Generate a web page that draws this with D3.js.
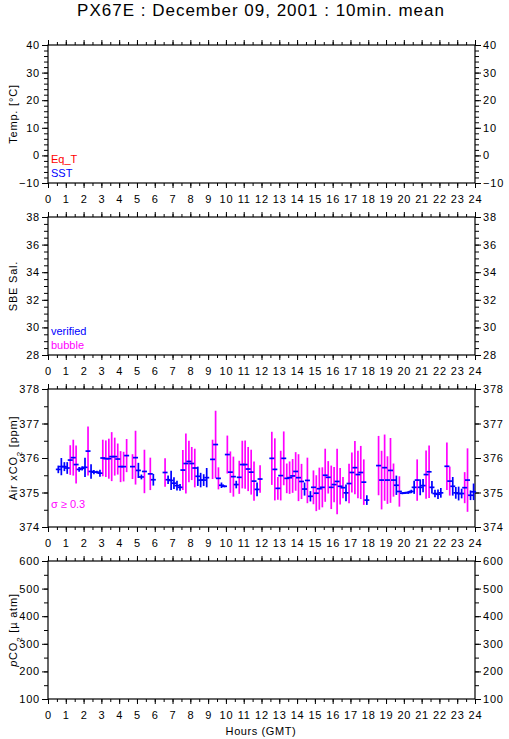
<!DOCTYPE html>
<html>
<head>
<meta charset="utf-8">
<script src="https://cdn.jsdelivr.net/npm/d3@7"></script>
<style>
    body { margin: 0; background: #fff; }
    text { font-family: "Liberation Sans", Arial, sans-serif; }
</style>
</head>
<body>
<svg id="chart"></svg>
<script>

// 10 minute means of air xCO2, hour of day (GMT)
var hours = [0.58,0.75,0.92,1.08,1.25,1.42,1.58,1.75,1.92,2.08,2.25,2.42,2.58,2.75,2.92,
    3.08,3.25,3.42,3.58,3.75,3.92,4.08,4.25,4.42,4.75,4.92,5.08,5.25,5.42,5.75,5.92,
    6.58,6.75,6.92,7.08,7.25,7.42,7.58,7.75,7.92,8.08,8.25,8.42,8.58,8.75,8.92,
    9.25,9.42,9.58,9.75,9.92,10.08,10.25,10.42,10.58,10.75,10.92,11.08,11.25,11.42,11.58,11.75,11.92,
    12.58,12.75,12.92,13.08,13.25,13.42,13.58,13.75,13.92,14.08,14.25,14.42,14.58,14.75,14.92,
    15.08,15.25,15.42,15.58,15.75,15.92,16.08,16.25,16.42,16.58,16.75,16.92,
    17.08,17.25,17.42,17.58,17.75,17.92,18.58,18.75,18.92,19.08,19.25,19.42,19.58,19.75,19.92,
    20.08,20.25,20.42,20.58,20.75,20.92,21.08,21.25,21.42,21.58,21.75,21.92,
    22.08,22.42,22.58,22.75,22.92,23.08,23.25,23.42,23.58,23.75,23.92]

var xco2 = [375.67,375.75,375.75,375.71,375.94,376.01,375.81,375.67,375.70,375.73,376.20,375.61,375.59,375.59,375.56,
    376.00,375.98,375.98,376.04,376.04,375.97,375.75,375.75,376.07,375.75,376.01,375.64,375.45,375.61,375.54,375.37,
    375.58,375.37,375.35,375.27,375.20,375.15,375.65,375.84,375.90,375.84,375.71,375.47,375.36,375.36,375.43,
    375.96,376.39,375.41,375.21,375.18,376.10,375.59,375.46,375.23,375.44,375.81,375.81,375.68,375.59,375.33,375.09,375.39,
    375.99,375.67,375.12,375.49,375.99,375.41,375.43,375.48,375.61,375.43,375.32,375.10,375.35,374.89,375.15,
    374.98,375.11,375.15,375.50,375.44,375.15,375.23,375.32,375.18,375.14,374.99,375.26,
    375.58,375.72,375.52,375.58,375.30,374.78,375.78,375.36,375.72,375.36,375.64,375.36,375.21,375.03,374.98,
    374.99,375.00,375.03,375.15,375.36,375.15,375.20,375.52,375.60,375.15,374.97,374.95,
    374.99,375.76,375.33,375.18,374.99,374.97,374.97,375.14,375.36,374.92,375.02]

var sigma = [0.11,0.25,0.13,0.17,0.43,0.52,0.55,0.07,0.06,0.28,0.71,0.21,0.06,0.04,0.10,
    0.53,0.53,0.58,0.71,0.55,0.45,0.45,0.43,0.48,0.36,0.78,0.22,0.07,0.63,0.47,0.17,
    0.41,0.12,0.28,0.17,0.14,0.10,0.58,0.87,0.60,0.48,0.56,0.28,0.21,0.17,0.28,
    0.57,0.98,0.32,0.08,0.03,0.55,0.60,0.58,0.11,0.48,0.69,0.70,0.64,0.65,0.57,0.20,0.40,
    0.77,0.90,0.33,0.72,0.78,0.43,0.47,0.49,0.56,0.68,0.51,0.19,0.66,0.15,0.49,
    0.52,0.61,0.58,0.77,0.47,0.63,0.51,0.95,0.53,0.31,0.24,0.57,
    0.58,0.77,0.69,0.77,0.66,0.14,0.86,0.85,0.96,0.69,0.94,0.48,0.28,0.44,0.03,
    0.03,0.04,0.05,0.19,0.60,0.23,0.19,0.70,0.76,0.18,0.11,0.14,
    0.14,0.69,0.42,0.27,0.17,0.20,0.14,0.45,0.92,0.14,0.24]

var sigmaLimit = 0.3

var hourTicks = d3.range(0, 25)
var halfHourTicks = d3.range(0, 24.01, 0.5)

var panels = [
    { label: "Temp. [°C]", domain: [-10, 40], major: 10, minor: 2 },
    { label: "SBE Sal.", domain: [28, 38], major: 2, minor: 0.5 },
    { label: "Air xCO2 [ppm]", domain: [374, 378], major: 1, minor: 0.5 },
    { label: "pCO2 [µ atm]", domain: [100, 600], major: 100, minor: 50 }
]

var dimensions = {
    width: 509,
    height: 739,
    left: 48,
    right: 475,
    tops: [45, 217, 389, 561],
    panelHeight: 138
}

var svg = d3.select("#chart")
    .attr("width", dimensions.width)
    .attr("height", dimensions.height)

var xScale = d3.scaleLinear()
    .domain([0, 24])
    .range([dimensions.left, dimensions.right])

svg.append("text")
    .attr("x", 261)
    .attr("y", 16)
    .attr("text-anchor", "middle")
    .style("font-size", "17px")
    .style("letter-spacing", "1px")
    .text("PX67E : December 09, 2001 : 10min. mean")

function styleAxis(g) {
    g.select(".domain").remove()
    g.selectAll("text")
        .style("font-size", "11px")
        .style("letter-spacing", "0.8px")
        .style("font-family", "Liberation Sans, Arial, sans-serif")
        .attr("fill", "black")
}

var yScales = []

panels.forEach(function(p, i) {
    var top = dimensions.tops[i]
    var bottom = top + dimensions.panelHeight

    var yScale = d3.scaleLinear()
        .domain(p.domain)
        .range([bottom, top])
    yScales.push(yScale)

    var majors = d3.range(p.domain[0], p.domain[1] + 1e-9, p.major)
    var minors = d3.range(p.domain[0], p.domain[1] + 1e-9, p.minor)

    // y axes, left and right
    svg.append("g").attr("transform", `translate(${dimensions.left},0)`)
        .call(d3.axisLeft(yScale).tickValues(minors).tickSize(4).tickFormat(""))
        .call(styleAxis)
    svg.append("g").attr("transform", `translate(${dimensions.left},0)`)
        .call(d3.axisLeft(yScale).tickValues(majors).tickSize(6).tickPadding(2).tickFormat(d3.format("d")))
        .call(styleAxis)
    svg.append("g").attr("transform", `translate(${dimensions.right},0)`)
        .call(d3.axisRight(yScale).tickValues(minors).tickSize(4).tickFormat(""))
        .call(styleAxis)
    svg.append("g").attr("transform", `translate(${dimensions.right},0)`)
        .call(d3.axisRight(yScale).tickValues(majors).tickSize(6).tickPadding(2).tickFormat(d3.format("d")))
        .call(styleAxis)

    // x axes, top and bottom
    svg.append("g").attr("transform", `translate(0,${top})`)
        .call(d3.axisTop(xScale).tickValues(halfHourTicks).tickSize(3).tickFormat(""))
        .call(styleAxis)
    svg.append("g").attr("transform", `translate(0,${top})`)
        .call(d3.axisTop(xScale).tickValues(hourTicks).tickSize(5).tickFormat(""))
        .call(styleAxis)
    svg.append("g").attr("transform", `translate(0,${bottom})`)
        .call(d3.axisBottom(xScale).tickValues(halfHourTicks).tickSize(3).tickFormat(""))
        .call(styleAxis)
    svg.append("g").attr("transform", `translate(0,${bottom})`)
        .call(d3.axisBottom(xScale).tickValues(hourTicks).tickSize(5).tickPadding(7).tickFormat(d3.format("d")))
        .call(styleAxis)

    svg.append("rect")
        .attr("x", dimensions.left)
        .attr("y", top)
        .attr("width", dimensions.right - dimensions.left)
        .attr("height", dimensions.panelHeight)
        .attr("fill", "none")
        .attr("stroke", "black")
        .attr("stroke-width", 1.2)

    // y label
    var lab = svg.append("text")
        .attr("transform", `translate(17,${(top + bottom) / 2}) rotate(-90)`)
        .attr("text-anchor", "middle")
        .style("font-size", "11px")
        .style("letter-spacing", "0.8px")
    if (i == 2) {
        lab.append("tspan").text("Air xCO")
        lab.append("tspan").attr("baseline-shift", "sub").style("font-size", "8px").text("2")
        lab.append("tspan").text(" [ppm]")
    } else if (i == 3) {
        lab.append("tspan").style("font-style", "italic").text("p")
        lab.append("tspan").text("CO")
        lab.append("tspan").attr("baseline-shift", "sub").style("font-size", "8px").text("2")
        lab.append("tspan").text(" [µ atm]")
    } else {
        lab.text(p.label)
    }
})

// legends
function legend(x, y, color, txt) {
    svg.append("text").attr("x", x).attr("y", y).attr("fill", color).style("font-size", "11px").text(txt)
}
legend(51, 163, "#ff0000", "Eq_T")
legend(51, 177, "#0000ff", "SST")
legend(51, 335, "#0000ff", "verified")
legend(51, 349, "#ff00ff", "bubble")
legend(51, 508, "#ff00ff", "σ ≥ 0.3")

svg.append("text")
    .attr("x", 261)
    .attr("y", 735)
    .attr("text-anchor", "middle")
    .style("font-size", "11px")
    .style("letter-spacing", "0.6px")
    .text("Hours (GMT)")

// xCO2 error bars and means
var yCO2 = yScales[2]
var dataset = hours.map((h, i) => ({ h: h, m: xco2[i], s: sigma[i] }))

svg.selectAll("line.bar")
    .data(dataset)
    .enter()
    .append("line")
    .attr("class", "bar")
    .attr("x1", d => xScale(d.h))
    .attr("x2", d => xScale(d.h))
    .attr("y1", d => yCO2(d.m - d.s))
    .attr("y2", d => yCO2(d.m + d.s))
    .attr("stroke", d => d.s >= sigmaLimit ? "#ff00ff" : "#0000ff")
    .attr("stroke-width", 1.7)

svg.selectAll("line.mean")
    .data(dataset)
    .enter()
    .append("line")
    .attr("class", "mean")
    .attr("x1", d => xScale(d.h) - 2.5)
    .attr("x2", d => xScale(d.h) + 2.5)
    .attr("y1", d => yCO2(d.m))
    .attr("y2", d => yCO2(d.m))
    .attr("stroke", "#0000ff")
    .attr("stroke-width", 1.7)

</script>
</body>
</html>
